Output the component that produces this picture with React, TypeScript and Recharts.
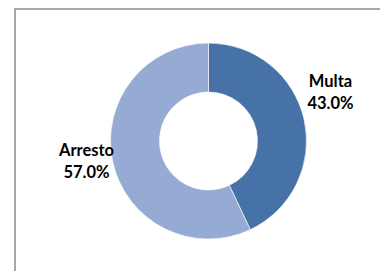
import React from "react";
import { PieChart, Pie, Cell } from "recharts";

const categories = ["Multa", "Arresto"];
const values = [43.0, 57.0];
const colors = ["#4672a7", "#95abd3"];

const data = categories.map((name, i) => ({ name, value: values[i] }));

const RAD = Math.PI / 180;
// vertical nudges for Excel "best fit" label placement
const labelDy = [-22, -7];

const renderLabel = (props: any) => {
  const { cx, cy, midAngle, outerRadius, index, name, percent } = props;
  const r = outerRadius + 27;
  const x = cx + r * Math.cos(-midAngle * RAD);
  const y = cy + r * Math.sin(-midAngle * RAD) + labelDy[index];
  return (
    <text
      x={x}
      y={y}
      textAnchor="middle"
      fontFamily="Lato, 'Open Sans', sans-serif"
      fontWeight={700}
      fontSize={16.5}
      fill="#000"
    >
      <tspan x={x} y={y - 5.2}>{name}</tspan>
      <tspan x={x} y={y + 16.8}>{(percent * 100).toFixed(1)}%</tspan>
    </text>
  );
};

export default function App() {
  return (
    <div
      style={{
        marginLeft: 6,
        width: 400,
        height: 280,
        borderLeft: "2px solid #a8a8a8",
        borderTop: "2px solid #a8a8a8",
        boxSizing: "border-box",
      }}
    >
      <PieChart width={390} height={270} margin={{ top: 0, right: 0, bottom: 0, left: 0 }}>
        <Pie
          data={data}
          dataKey="value"
          nameKey="name"
          cx={192.5}
          cy={131}
          innerRadius={49}
          outerRadius={98}
          startAngle={90}
          endAngle={-270}
          stroke="#ffffff"
          strokeWidth={0.6}
          label={renderLabel}
          labelLine={false}
          isAnimationActive={false}
        >
          {data.map((d, i) => (
            <Cell key={d.name} fill={colors[i]} />
          ))}
        </Pie>
      </PieChart>
    </div>
  );
}
